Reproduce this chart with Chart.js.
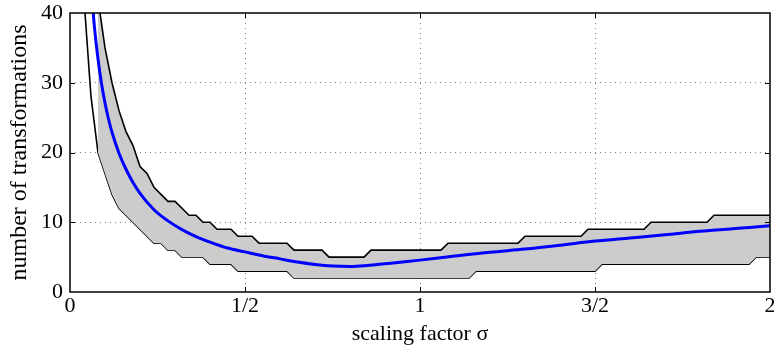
<!DOCTYPE html>
<html>
<head>
<meta charset="utf-8">
<script src="https://cdn.jsdelivr.net/npm/chart.js@4/dist/chart.umd.min.js"></script>
<style>
  html, body { margin: 0; padding: 0; background: #fff; }
  #wrap { width: 774px; height: 348px; }
</style>
</head>
<body>
<div id="wrap"><canvas id="c" width="774" height="348"></canvas></div>
<script>
// ---- data ----
const xTickValues = [0, 0.5, 1, 1.5, 2];
const xTickLabels = ['0', '1/2', '1', '3/2', '2'];
const yTickValues = [0, 10, 20, 30, 40];

const meanX = [0.06, 0.07, 0.08, 0.09, 0.10, 0.11, 0.12, 0.14, 0.16, 0.18, 0.20, 0.24, 0.28, 0.32, 0.36, 0.40, 0.45, 0.50, 0.55, 0.60, 0.65, 0.70, 0.75, 0.80, 0.85, 0.90, 0.95, 1.00, 1.10, 1.20, 1.30, 1.40, 1.50, 1.60, 1.70, 1.80, 1.90, 2.00];
const meanY = [44, 37.9, 33.4, 29.9, 27.1, 24.8, 22.9, 19.9, 17.6, 15.7, 14.15, 11.8, 10.2, 8.95, 7.95, 7.15, 6.3, 5.75, 5.2, 4.75, 4.3, 3.95, 3.72, 3.65, 3.8, 4.05, 4.3, 4.57, 5.15, 5.7, 6.15, 6.7, 7.3, 7.75, 8.2, 8.7, 9.1, 9.5];

const upperX = [0.08, 0.10, 0.12, 0.14, 0.16, 0.18, 0.20, 0.22, 0.24, 0.26, 0.28, 0.30, 0.32, 0.34, 0.36, 0.38, 0.40, 0.42, 0.46, 0.48, 0.52, 0.54, 0.62, 0.64, 0.72, 0.74, 0.84, 0.86, 1.06, 1.08, 1.28, 1.30, 1.46, 1.48, 1.64, 1.66, 1.82, 1.84, 2.00];
const upperY = [42, 35, 30, 26, 23, 21, 18, 17, 15, 14, 13, 13, 12, 11, 11, 10, 10, 9, 9, 8, 8, 7, 7, 6, 6, 5, 5, 6, 6, 7, 7, 8, 8, 9, 9, 10, 10, 11, 11];

const lowerX = [0.04, 0.06, 0.08, 0.10, 0.12, 0.14, 0.16, 0.18, 0.20, 0.22, 0.24, 0.26, 0.28, 0.30, 0.32, 0.38, 0.40, 0.46, 0.48, 0.62, 0.64, 1.14, 1.16, 1.50, 1.52, 1.94, 1.96, 2.00];
const lowerY = [42, 28, 20, 17, 14, 12, 11, 10, 9, 8, 7, 7, 6, 6, 5, 5, 4, 4, 3, 3, 2, 2, 3, 3, 4, 4, 5, 5];

const toPts = (xs, ys) => xs.map((x, i) => ({ x: x, y: ys[i] }));

const FONT = '"Liberation Serif", "Times New Roman", serif';

const framePlugin = {
  id: 'frame',
  afterDatasetsDraw(chart) {
    const { ctx, chartArea: { left, right, top, bottom }, scales: { x, y } } = chart;
    ctx.save();
    ctx.strokeStyle = '#000';
    ctx.lineWidth = 1;
    const t = 5;
    xTickValues.slice(1, -1).forEach(v => {
      const px = Math.round(x.getPixelForValue(v)) + 0.5;
      ctx.beginPath();
      ctx.moveTo(px, bottom); ctx.lineTo(px, bottom - t);
      ctx.moveTo(px, top); ctx.lineTo(px, top + t);
      ctx.stroke();
    });
    yTickValues.slice(1, -1).forEach(v => {
      const py = Math.round(y.getPixelForValue(v)) + 0.5;
      ctx.beginPath();
      ctx.moveTo(left, py); ctx.lineTo(left + t, py);
      ctx.moveTo(right, py); ctx.lineTo(right - t, py);
      ctx.stroke();
    });
    ctx.lineWidth = 1.5;
    ctx.strokeRect(left, top, right - left, bottom - top);
    ctx.restore();
  }
};

new Chart(document.getElementById('c'), {
  type: 'line',
  data: {
    datasets: [
      {
        label: 'mean',
        data: toPts(meanX, meanY),
        borderColor: '#0000ff',
        borderWidth: 3,
        pointRadius: 0,
        fill: false,
        cubicInterpolationMode: 'monotone'
      },
      {
        label: 'upper',
        data: toPts(upperX, upperY),
        borderColor: '#000000',
        borderWidth: 1.6,
        pointRadius: 0,
        tension: 0,
        fill: '+1',
        backgroundColor: '#cccccc'
      },
      {
        label: 'lower',
        data: toPts(lowerX, lowerY),
        borderColor: '#000000',
        borderWidth: 1.6,
        pointRadius: 0,
        tension: 0,
        fill: false
      }
    ]
  },
  options: {
    responsive: false,
    animation: false,
    events: [],
    layout: { autoPadding: false, padding: { top: 13, right: 4, left: 0, bottom: 0 } },
    plugins: { legend: { display: false }, tooltip: { enabled: false } },
    scales: {
      x: {
        type: 'linear',
        min: 0, max: 2,
        afterBuildTicks(scale) { scale.ticks = xTickValues.map(v => ({ value: v })); },
        afterFit(scale) { scale.height = 56; scale.paddingLeft = 0; scale.paddingRight = 0; },
        ticks: {
          callback: (v) => { const i = xTickValues.indexOf(v); return i >= 0 ? xTickLabels[i] : ''; },
          color: '#000', font: { family: FONT, size: 22 }, padding: 1, maxRotation: 0, autoSkip: false
        },
        grid: {
          drawTicks: false,
          color: (c) => (c.tick && (c.tick.value === 0 || c.tick.value === 2)) ? 'transparent' : '#808080',
          lineWidth: 1
        },
        border: { display: false, dash: [1, 4] },
        title: { display: true, text: 'scaling factor σ', color: '#000', font: { family: FONT, size: 22 }, padding: { top: 0, bottom: 1 } }
      },
      y: {
        type: 'linear',
        min: 0, max: 40,
        afterBuildTicks(scale) { scale.ticks = yTickValues.map(v => ({ value: v })); },
        afterFit(scale) { scale.width = 70; scale.paddingTop = 0; scale.paddingBottom = 0; },
        ticks: { color: '#000', font: { family: FONT, size: 22 }, padding: 7 },
        grid: {
          drawTicks: false,
          color: (c) => (c.tick && (c.tick.value === 0 || c.tick.value === 40)) ? 'transparent' : '#808080',
          lineWidth: 1
        },
        border: { display: false, dash: [1, 4] },
        title: { display: true, text: 'number of transformations', color: '#000', font: { family: FONT, size: 24 }, padding: { top: 5, bottom: 0 } }
      }
    }
  },
  plugins: [framePlugin]
});
</script>
</body>
</html>
